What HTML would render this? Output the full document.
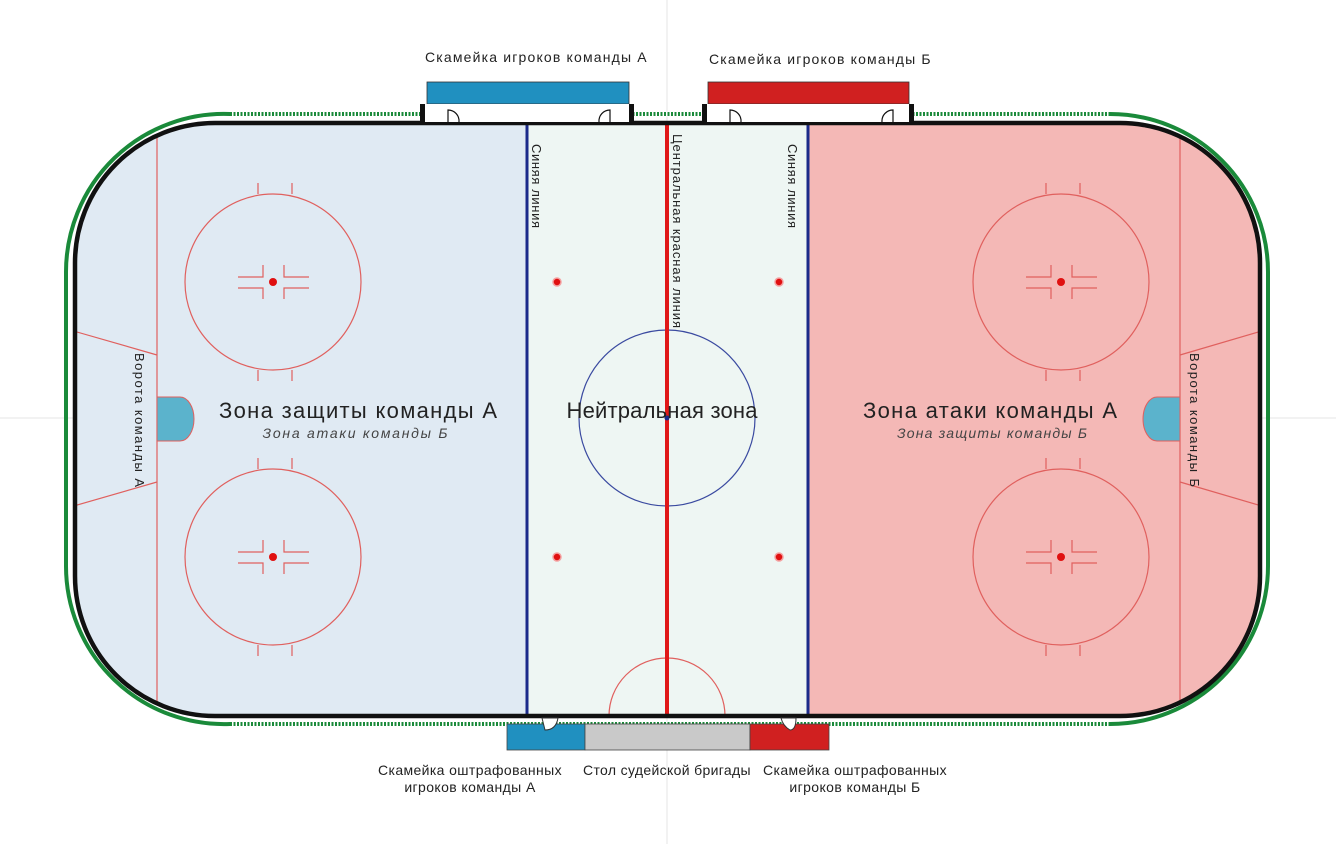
<!DOCTYPE html><html><head><meta charset="utf-8"><style>body{margin:0;background:#fff}svg{display:block}text{font-family:"Liberation Sans",sans-serif}</style></head><body>
<svg width="1336" height="844" viewBox="0 0 1336 844" xmlns="http://www.w3.org/2000/svg">
<line x1="0" y1="418" x2="1336" y2="418" stroke="#e4e4e4"/>
<line x1="667" y1="0" x2="667" y2="844" stroke="#e4e4e4"/>
<path d="M230 114 H1110 A158 158 0 0 1 1268 272 V566 A158 158 0 0 1 1110 724 H230 A158 158 0 0 1 66 566 V272 A158 158 0 0 1 230 114Z" fill="none" stroke="#1a8a3a" stroke-width="4"/>
<path d="M230 114 H1110 M230 724 H1110" stroke="#fff" stroke-width="5"/>
<path d="M230 114 H1110 M230 724 H1110" stroke="#1a8a3a" stroke-width="4" stroke-dasharray="2 1.5"/>
<clipPath id="r"><path d="M215 123 H1120 A140 140 0 0 1 1260 263 V576 A140 140 0 0 1 1120 716 H215 A140 140 0 0 1 75 576 V263 A140 140 0 0 1 215 123Z"/></clipPath>
<g clip-path="url(#r)">
<rect x="60" y="110" width="467" height="620" fill="#e0eaf3"/>
<rect x="527" y="110" width="281" height="620" fill="#eef6f3"/>
<rect x="808" y="110" width="470" height="620" fill="#f4b8b6"/>
<g stroke="#e0605e" stroke-width="1.2" fill="none">
<line x1="157" y1="110" x2="157" y2="730"/><line x1="1180" y1="110" x2="1180" y2="730"/>
<line x1="70" y1="330" x2="157" y2="355"/><line x1="70" y1="507" x2="157" y2="482"/>
<line x1="1265" y1="330" x2="1180" y2="355"/><line x1="1265" y1="507" x2="1180" y2="482"/>
<circle cx="273" cy="282" r="88"/><circle cx="273" cy="557" r="88"/>
<circle cx="1061" cy="282" r="88"/><circle cx="1061" cy="557" r="88"/>
<circle cx="667" cy="716" r="58"/>
</g>
<path d="M157 397 H180 A14 22 0 0 1 180 441 H157Z" fill="#5bb3cc" stroke="#e0605e"/>
<path d="M1180 397 H1157 A14 22 0 0 0 1157 441 H1180Z" fill="#5bb3cc" stroke="#e0605e"/>
<circle cx="667" cy="418" r="88" fill="none" stroke="#3a4aa0" stroke-width="1.2"/>
<line x1="527" y1="110" x2="527" y2="730" stroke="#1b2a8a" stroke-width="3"/>
<line x1="808" y1="110" x2="808" y2="730" stroke="#1b2a8a" stroke-width="3"/>
<line x1="667" y1="110" x2="667" y2="730" stroke="#e01818" stroke-width="4"/>
<circle cx="667" cy="418" r="2.5" fill="#1b2a8a"/>
</g>
<path d="M215 123 H1120 A140 140 0 0 1 1260 263 V576 A140 140 0 0 1 1120 716 H215 A140 140 0 0 1 75 576 V263 A140 140 0 0 1 215 123Z" fill="none" stroke="#111" stroke-width="4.5"/>
<g id="fo" stroke="#e0605e" stroke-width="1.2" fill="none">
<path d="M258 194 V183 M292 194 V183 M258 370 V381 M292 370 V381"/>
<path d="M238 277 H263 V265 M238 288 H263 V299 M309 277 H284 V265 M309 288 H284 V299"/>
</g>
<circle cx="273" cy="282" r="4" fill="#e01010"/>
<use href="#fo" y="275"/><circle cx="273" cy="557" r="4" fill="#e01010"/>
<use href="#fo" x="788"/><circle cx="1061" cy="282" r="4" fill="#e01010"/>
<use href="#fo" x="788" y="275"/><circle cx="1061" cy="557" r="4" fill="#e01010"/>
<g fill="#e01010" stroke="#f4a0a0" stroke-width="1.5"><circle cx="557" cy="282" r="4"/><circle cx="557" cy="557" r="4"/><circle cx="779" cy="282" r="4"/><circle cx="779" cy="557" r="4"/></g>
<rect x="427" y="82" width="202" height="22" fill="#2090c0" stroke="#333" stroke-width=".8"/>
<rect x="708" y="82" width="201" height="22" fill="#d02020" stroke="#333" stroke-width=".8"/>
<rect x="422" y="104" width="210" height="18" fill="#fff"/><rect x="704" y="104" width="208" height="18" fill="#fff"/>
<g fill="#111"><rect x="420" y="104" width="5" height="19"/><rect x="629" y="104" width="5" height="19"/><rect x="702" y="104" width="5" height="19"/><rect x="909" y="104" width="5" height="19"/></g>
<g fill="none" stroke="#111" stroke-width="1.2"><path d="M448 122 V110 A11 11 0 0 1 459 122"/><path d="M610 122 V110 A11 11 0 0 0 599 122"/><path d="M730 122 V110 A11 11 0 0 1 741 122"/><path d="M893 122 V110 A11 11 0 0 0 882 122"/></g>
<rect x="507" y="724" width="78" height="26" fill="#2090c0" stroke="#444" stroke-width=".8"/>
<rect x="585" y="724" width="165" height="26" fill="#c9c9c9" stroke="#444" stroke-width=".8"/>
<rect x="750" y="724" width="79" height="26" fill="#d02020" stroke="#444" stroke-width=".8"/>
<path d="M542 718 H558 Q556 730 545 730Z" fill="#fff" stroke="#333"/>
<path d="M781 718 H796 Q796 730 790 730 Q783 726 781 718Z" fill="#fff" stroke="#333"/>
<g font-size="14" fill="#222" letter-spacing="0.4">
<text x="536" y="62" text-anchor="middle" textLength="222">Скамейка игроков команды А</text>
<text x="820" y="64" text-anchor="middle" textLength="222">Скамейка игроков команды Б</text>
<text x="470" y="775" text-anchor="middle" textLength="184">Скамейка оштрафованных</text>
<text x="470" y="792" text-anchor="middle">игроков команды А</text>
<text x="667" y="775" text-anchor="middle" textLength="168">Стол судейской бригады</text>
<text x="855" y="775" text-anchor="middle" textLength="184">Скамейка оштрафованных</text>
<text x="855" y="792" text-anchor="middle">игроков команды Б</text>
</g>
<g font-size="13" fill="#222">
<text transform="translate(532,144) rotate(90)" textLength="84">Синяя линия</text>
<text transform="translate(788,144) rotate(90)" textLength="84">Синяя линия</text>
<text transform="translate(673,134) rotate(90)" textLength="194">Центральная красная линия</text>
<text transform="translate(135,353) rotate(90)" textLength="134">Ворота команды А</text>
<text transform="translate(1190,353) rotate(90)" textLength="134">Ворота команды Б</text>
</g>
<g font-size="22" fill="#222" text-anchor="middle">
<text x="358" y="418" textLength="278">Зона защиты команды А</text>
<text x="662" y="418" textLength="191">Нейтральная зона</text>
<text x="990" y="418" textLength="254">Зона атаки команды А</text>
</g>
<g font-size="14" fill="#444" font-style="italic" text-anchor="middle">
<text x="355" y="438" textLength="185">Зона атаки команды Б</text>
<text x="992" y="438" textLength="190">Зона защиты команды Б</text>
</g>
</svg></body></html>
